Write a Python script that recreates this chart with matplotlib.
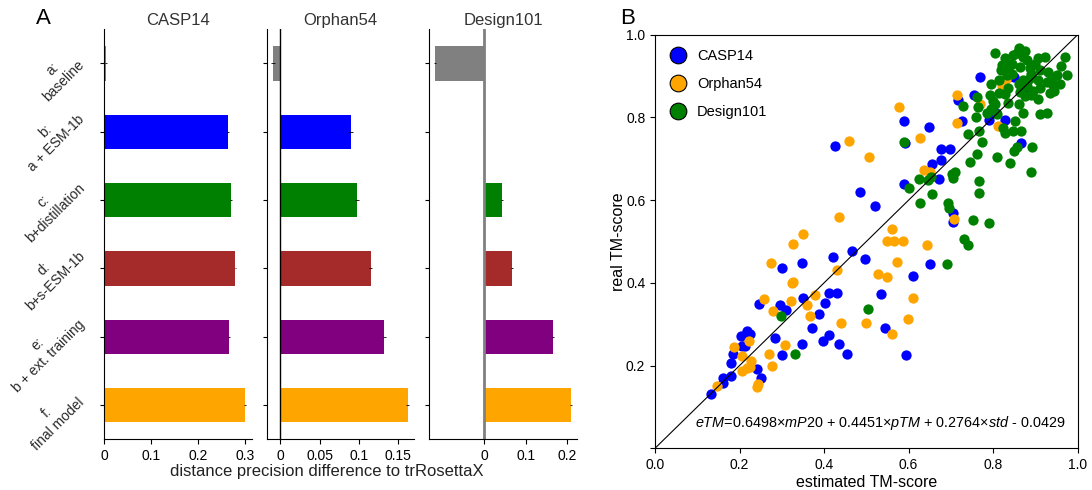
import matplotlib
matplotlib.use('Agg')
import matplotlib.pyplot as plt
from matplotlib.lines import Line2D
from matplotlib.transforms import ScaledTranslation

plt.rcParams['font.family'] = ['Liberation Sans', 'DejaVu Sans']
plt.rcParams['mathtext.fontset'] = 'custom'
plt.rcParams['mathtext.rm'] = 'Liberation Sans'
plt.rcParams['mathtext.it'] = 'Liberation Sans:italic'

# ---- panel A data ----
models = ['a:\nbaseline', 'b:\na + ESM-1b', 'c:\nb+distillation',
          'd:\nb+s-ESM-1b', 'e:\nb + ext. training', 'f:\nfinal model']
bar_colors = ['gray', 'blue', 'green', 'brown', 'purple', 'orange']
casp14 = [0.005, 0.265, 0.270, 0.280, 0.267, 0.300]
orphan54 = [-0.0093, 0.090, 0.0976, 0.115, 0.132, 0.162]
design101 = [-0.117, 0.001, 0.043, 0.067, 0.165, 0.209]

# ---- panel B data (estimated TM-score, real TM-score) ----
casp_x = [0.770, 0.849, 0.755, 0.718, 0.807, 0.829, 0.789, 0.727, 0.588, 0.648,
          0.866, 0.592, 0.425, 0.677, 0.698, 0.655, 0.676, 0.672, 0.588, 0.484,
          0.521, 0.706, 0.704, 0.466, 0.883, 0.498, 0.422, 0.347, 0.300, 0.651,
          0.610, 0.351, 0.412, 0.430, 0.402, 0.534, 0.245, 0.296, 0.309, 0.389,
          0.371, 0.412, 0.398, 0.435, 0.347, 0.285, 0.543, 0.455, 0.593, 0.301,
          0.203, 0.218, 0.225, 0.205, 0.213, 0.184, 0.180, 0.242, 0.250, 0.179,
          0.160, 0.162, 0.132]
casp_y = [0.897, 0.897, 0.854, 0.841, 0.810, 0.794, 0.794, 0.792, 0.791, 0.778,
          0.739, 0.739, 0.731, 0.724, 0.724, 0.687, 0.697, 0.650, 0.638, 0.619,
          0.587, 0.568, 0.548, 0.476, 0.866, 0.457, 0.462, 0.449, 0.437, 0.446,
          0.417, 0.364, 0.375, 0.375, 0.352, 0.373, 0.349, 0.347, 0.334, 0.325,
          0.290, 0.274, 0.260, 0.252, 0.251, 0.266, 0.292, 0.227, 0.226, 0.226,
          0.272, 0.284, 0.276, 0.247, 0.247, 0.227, 0.206, 0.192, 0.171, 0.176,
          0.169, 0.157, 0.131]

orph_x = [0.830, 0.824, 0.820, 0.714, 0.768, 0.578, 0.714, 0.811, 0.458, 0.628,
          0.507, 0.637, 0.651, 0.436, 0.707, 0.561, 0.351, 0.327, 0.548, 0.566,
          0.586, 0.644, 0.275, 0.573, 0.528, 0.548, 0.430, 0.323, 0.259, 0.321,
          0.359, 0.379, 0.366, 0.280, 0.611, 0.440, 0.499, 0.598, 0.561, 0.308,
          0.223, 0.270, 0.188, 0.206, 0.226, 0.278, 0.205, 0.217, 0.225, 0.243,
          0.242, 0.147, 0.327]
orph_y = [0.892, 0.887, 0.876, 0.854, 0.833, 0.824, 0.786, 0.779, 0.744, 0.751,
          0.705, 0.673, 0.667, 0.559, 0.554, 0.530, 0.517, 0.494, 0.500, 0.502,
          0.502, 0.492, 0.449, 0.450, 0.422, 0.415, 0.431, 0.399, 0.360, 0.355,
          0.347, 0.371, 0.320, 0.332, 0.364, 0.302, 0.302, 0.312, 0.276, 0.250,
          0.260, 0.228, 0.244, 0.222, 0.212, 0.200, 0.187, 0.195, 0.196, 0.156,
          0.149, 0.151, 0.402]

des_x = [0.804, 0.828, 0.860, 0.875, 0.848, 0.856, 0.820, 0.838, 0.863, 0.887,
         0.907, 0.923, 0.970, 0.975, 0.950, 0.930, 0.912, 0.832, 0.815, 0.796,
         0.871, 0.885, 0.927, 0.942, 0.934, 0.911, 0.895, 0.863, 0.875, 0.828,
         0.793, 0.761, 0.728, 0.765, 0.800, 0.805, 0.785, 0.808, 0.759, 0.860,
         0.871, 0.911, 0.928, 0.852, 0.824, 0.828, 0.846, 0.867, 0.740, 0.767,
         0.774, 0.891, 0.856, 0.850, 0.761, 0.808, 0.841, 0.745, 0.890, 0.590,
         0.845, 0.880, 0.900, 0.958, 0.940, 0.818, 0.845, 0.890, 0.905, 0.860,
         0.835, 0.880, 0.960, 0.815, 0.890, 0.795, 0.835, 0.905, 0.945, 0.870,
         0.710, 0.702, 0.706, 0.625, 0.647, 0.652, 0.767, 0.601, 0.656, 0.767,
         0.694, 0.696, 0.627, 0.753, 0.789, 0.730, 0.740, 0.690, 0.503, 0.297,
         0.332]
des_y = [0.955, 0.944, 0.967, 0.961, 0.951, 0.955, 0.927, 0.925, 0.923, 0.919,
         0.943, 0.947, 0.947, 0.903, 0.903, 0.911, 0.915, 0.903, 0.890, 0.880,
         0.890, 0.893, 0.886, 0.878, 0.858, 0.870, 0.865, 0.862, 0.852, 0.856,
         0.853, 0.850, 0.828, 0.826, 0.840, 0.833, 0.810, 0.808, 0.802, 0.832,
         0.810, 0.808, 0.810, 0.791, 0.774, 0.762, 0.768, 0.768, 0.760, 0.766,
         0.741, 0.729, 0.729, 0.718, 0.711, 0.704, 0.689, 0.693, 0.668, 0.741,
         0.930, 0.940, 0.930, 0.880, 0.895, 0.915, 0.905, 0.905, 0.890, 0.880,
         0.870, 0.875, 0.925, 0.860, 0.855, 0.820, 0.835, 0.845, 0.865, 0.945,
         0.669, 0.663, 0.653, 0.651, 0.649, 0.655, 0.646, 0.629, 0.615, 0.617,
         0.594, 0.580, 0.594, 0.552, 0.544, 0.505, 0.492, 0.445, 0.336, 0.320,
         0.227]

fig = plt.figure(figsize=(10.92, 4.90), dpi=100)

ax_c = fig.add_axes([0.0952, 0.1035, 0.1355, 0.8367])
ax_o = fig.add_axes([0.2442, 0.1035, 0.1349, 0.8367])
ax_d = fig.add_axes([0.3929, 0.1035, 0.1358, 0.8367])
ax_s = fig.add_axes([0.5998, 0.0851, 0.3871, 0.8441])

ypos = list(range(len(models)))
panels = [(ax_c, casp14, 'CASP14', (0, 0.315), [0, 0.1, 0.2, 0.3], ['0', '0.1', '0.2', '0.3']),
          (ax_o, orphan54, 'Orphan54', (-0.0173, 0.170), [0, 0.05, 0.1, 0.15], ['0', '0.05', '0.1', '0.15']),
          (ax_d, design101, 'Design101', (-0.132, 0.224), [0, 0.1, 0.2], ['0', '0.1', '0.2'])]

for ax, vals, title, xl, ticks, tlabels in panels:
    ax.barh(ypos, vals, height=0.5, color=bar_colors,
            xerr=[0.002] * len(vals), error_kw=dict(ecolor='black', elinewidth=0.6))
    ax.set_ylim(5.5, -0.5)
    ax.set_xlim(*xl)
    ax.set_xticks(ticks)
    ax.set_xticklabels(tlabels, fontsize=10)
    ax.set_yticks(ypos)
    ax.set_title(title, fontsize=12, color='#333333', pad=3)
    ax.spines['top'].set_visible(False)
    ax.spines['right'].set_visible(False)
    ax.tick_params(axis='y', length=3)

ax_c.tick_params(axis='y', pad=9)
ax_c.set_yticklabels(models, rotation=45, fontsize=10, ha='right', va='bottom',
                     rotation_mode='anchor', multialignment='center', color='#2a2a2a')
# small per-label shifts to follow the reference placement
for lab, dy in zip(ax_c.get_yticklabels(), [-3, 7, 7, 7, 7, 0]):
    lab.set_transform(lab.get_transform() + ScaledTranslation(0, dy / 72, fig.dpi_scale_trans))
ax_o.set_yticklabels([])
ax_d.set_yticklabels([])
ax_o.axvline(0, color='black', lw=1)
ax_d.axvline(0, color='gray', lw=2)

fig.text(0.2995, 0.037, 'distance precision difference to trRosettaX',
         ha='center', va='center', fontsize=12, color='#222222')
fig.text(0.033, 0.963, 'A', fontsize=16, ha='left', va='center')
fig.text(0.568, 0.963, 'B', fontsize=16, ha='left', va='center')

# ---- panel B ----
ax_s.plot([0, 1], [0, 1], color='black', lw=0.8)
ax_s.scatter(casp_x, casp_y, s=55, color='blue', linewidths=0)
ax_s.scatter(orph_x, orph_y, s=55, color='orange', linewidths=0)
ax_s.scatter(des_x, des_y, s=55, color='green', linewidths=0)
ax_s.set_xlim(0, 1)
ax_s.set_ylim(0, 1)
ticks = [0, 0.2, 0.4, 0.6, 0.8, 1.0]
ax_s.set_xticks(ticks)
ax_s.set_yticks(ticks)
ax_s.tick_params(labelsize=10)
ax_s.set_yticklabels(['', '0.2', '0.4', '0.6', '0.8', '1.0'])
ax_s.set_xlabel('estimated TM-score', fontsize=11.5, labelpad=2)
ax_s.set_ylabel('real TM-score', fontsize=11.5, labelpad=0)
ax_s.text(0.095, 0.06,
          r'$eTM$=0.6498$\times$$mP$20 + 0.4451$\times$$pTM$ + 0.2764$\times$$std$ - 0.0429',
          fontsize=10.4, ha='left', va='center')

handles = [Line2D([], [], marker='o', ls='', markersize=12, markerfacecolor=c,
                  markeredgecolor='black', markeredgewidth=0.8, label=l)
           for c, l in [('blue', 'CASP14'), ('orange', 'Orphan54'), ('green', 'Design101')]]
ax_s.legend(handles=handles, loc='upper left', bbox_to_anchor=(-0.014, 1.0), frameon=False,
            fontsize=10.5, handletextpad=0.3, labelspacing=0.95, borderaxespad=0.6)

fig.savefig('out.png', dpi=100)
